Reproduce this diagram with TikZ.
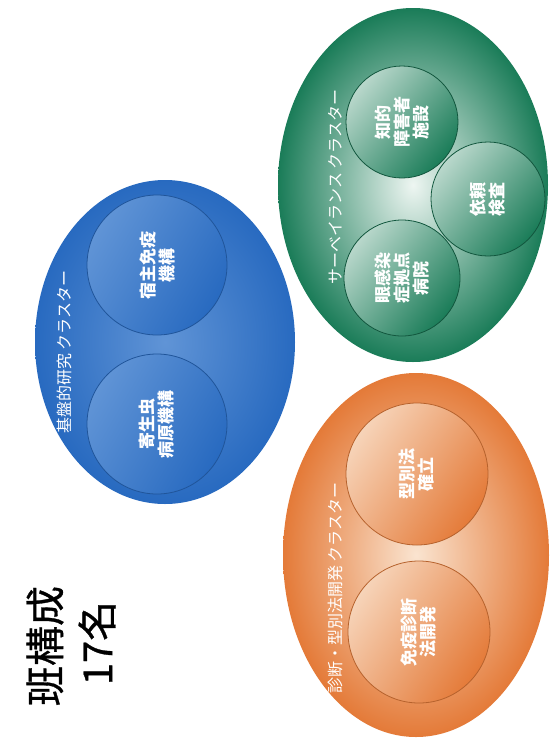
\documentclass[tikz,border=0pt]{standalone}
\usepackage{fontspec}
\setmainfont{Noto Sans CJK JP}
\newfontfamily\titlefont{Noto Sans CJK JP}[FakeBold=0.8]
\usetikzlibrary{shapes.geometric}
\definecolor{bluedark}{RGB}{40,106,192}
\definecolor{bluelight}{RGB}{96,148,214}
\definecolor{greendark}{RGB}{26,124,88}
\definecolor{greenlight}{RGB}{238,246,242}
\definecolor{orangedark}{RGB}{228,122,56}
\definecolor{orangelight}{RGB}{250,228,208}
\tikzset{
  cluster/.style={ellipse, draw=none, inner sep=0pt},
  sub/.style={circle, inner sep=0pt, minimum size=#1, line width=0.8pt},
  subtext/.style={text=white, rotate=90, align=center, font=\fontsize{17}{19}\selectfont\bfseries},
  clabel/.style={text=white, rotate=90, font=\fontsize{16}{18}\selectfont},
}
\begin{document}
\begin{tikzpicture}[x=1pt,y=-1pt]
\useasboundingbox (0,0) rectangle (554,745);
\fill[white] (0,0) rectangle (554,745);
% clusters
\node[cluster, minimum width=260pt, minimum height=324pt, inner color=bluelight, outer color=bluedark] (blue) at (165,342) {};
\node[cluster, minimum width=270pt, minimum height=354pt, inner color=greenlight, outer color=greendark] (green) at (413,185) {};
\node[cluster, minimum width=266pt, minimum height=364pt, inner color=orangelight, outer color=orangedark] (orange) at (416,555) {};
% blue subclusters
\node[sub=140pt, draw=bluedark!80!black, top color=bluelight, bottom color=bluedark, shading angle=60] (b1) at (157,265) {};
\node[sub=140pt, draw=bluedark!80!black, top color=bluelight, bottom color=bluedark, shading angle=60] (b2) at (157,424) {};
% green subclusters
\node[sub=112pt, draw=greendark!70!black, top color=greenlight!75!greendark, bottom color=greendark, shading angle=50] (g1) at (402,122) {};
\node[sub=114pt, draw=greendark!70!black, top color=greenlight!75!greendark, bottom color=greendark, shading angle=50] (g2) at (488,199) {};
\node[sub=116pt, draw=greendark!70!black, top color=greenlight!75!greendark, bottom color=greendark, shading angle=50] (g3) at (402,278) {};
% orange subclusters
\node[sub=142pt, draw=orangedark!80!black, top color=orangelight!85!orangedark, bottom color=orangedark, shading angle=55] (o1) at (417,474) {};
\node[sub=142pt, draw=orangedark!80!black, top color=orangelight!85!orangedark, bottom color=orangedark, shading angle=55] (o2) at (419,632) {};
% cluster labels
\node[clabel] (bl) at (64,352) {基盤的研究 クラスター};
\node[clabel] (gl) at (335,187) {サーベイランス クラスター};
\node[clabel] (ol) at (335,588) {診断・型別法開発 クラスター};
% sub labels
\node[subtext] (b1t) at (b1) {宿主免疫\\機構};
\node[subtext] (b2t) at (b2) {寄生虫\\病原機構};
\node[subtext] (g1t) at (g1) {知的\\障害者\\施設};
\node[subtext] (g2t) at (g2) {依頼\\検査};
\node[subtext] (g3t) at (g3) {眼感染\\症拠点\\病院};
\node[subtext] (o1t) at (o1) {型別法\\確立};
\node[subtext] (o2t) at (o2) {免疫診断\\法開発};
% title
\node[rotate=90, font=\titlefont\fontsize{40}{46}\selectfont] (t1) at (45,646) {班構成};
\node[rotate=90, font=\titlefont\fontsize{40}{46}\selectfont] (t2) at (97,643) {17名};
\end{tikzpicture}
\end{document}
